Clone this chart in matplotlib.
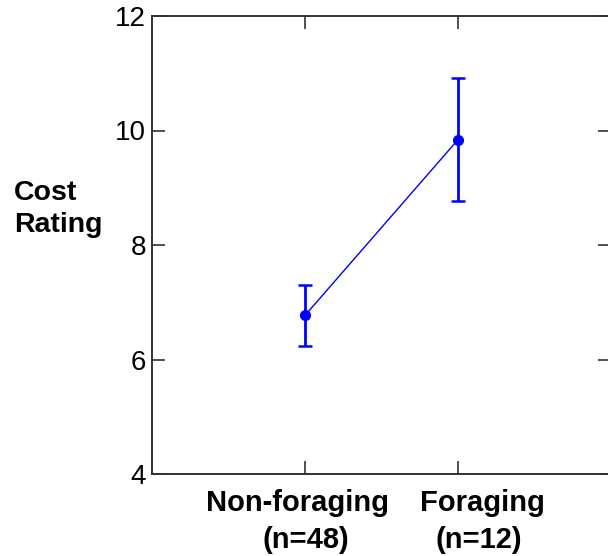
import numpy as np
import matplotlib
matplotlib.use('Agg')
import matplotlib.pyplot as plt
import matplotlib.transforms as mtransforms

plt.rcParams['font.family'] = ['Liberation Sans', 'DejaVu Sans']

# datos
grupos = ['Non-foraging', 'Foraging']
tamanos = ['(n=48)', '(n=12)']
posiciones = [1, 2]
medias = [6.77, 9.84]
errores = [0.53, 1.07]
yticks = [4, 6, 8, 10, 12]

fig = plt.figure(figsize=(6.08, 5.56), dpi=100)
ax = fig.add_axes([152/608, 1 - 474/556, 459/608, 458/556])

ax.errorbar(posiciones, medias, yerr=errores, color='#0000ff', lw=1.0,
            marker='o', ms=7, elinewidth=2.0, capsize=5, capthick=1.8)

ax.set_xlim(0, 3)
ax.set_ylim(4, 12)
ax.set_xticks(posiciones)
ax.set_xticklabels([])
ax.set_yticks(yticks)
ax.set_yticklabels([str(v) for v in yticks], fontsize=20)

ax.tick_params(direction='in', length=9.5, width=1.2, color='#333333',
               top=True, right=True, pad=4.5)
for lado in ['left', 'bottom', 'top', 'right']:
    ax.spines[lado].set_color('#333333')
    ax.spines[lado].set_linewidth(1.4)

# etiquetas del eje x, desplazadas como en el original
trans = mtransforms.blended_transform_factory(ax.transData, ax.transAxes)
desp_nombre = [-0.052, 0.16]
desp_n = [0.007, 0.137]
for p, g, t, d1, d2 in zip(posiciones, grupos, tamanos, desp_nombre, desp_n):
    ax.text(p + d1, -37/458, g, transform=trans, fontsize=21, fontweight='bold',
            ha='center', va='baseline')
    ax.text(p + d2, -74/458, t, transform=trans, fontsize=21, fontweight='bold',
            ha='center', va='baseline')

fig.text(14/608, 1 - 209/556, 'Cost\nRating', fontsize=20.5, fontweight='bold',
         ha='left', va='center', linespacing=1.3)

fig.savefig('out.png', dpi=100)
